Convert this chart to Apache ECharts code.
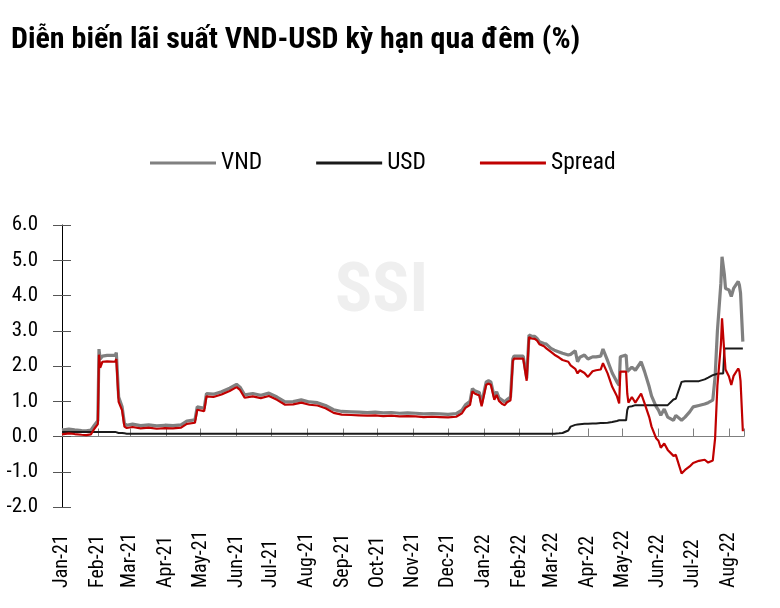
<!DOCTYPE html>
<html>
<head>
<meta charset="utf-8">
<script src="https://cdn.jsdelivr.net/npm/echarts@6/dist/echarts.min.js"></script>
<style>
html,body{margin:0;padding:0;background:#fff;}
#c{width:780px;height:608px;}
</style>
</head>
<body>
<div id="c"></div>
<script>
const dates = [
'2021-01-01','2021-01-07','2021-01-12','2021-01-18','2021-01-22','2021-01-26','2021-01-29','2021-02-01','2021-02-02','2021-02-03',
'2021-02-05','2021-02-09','2021-02-16','2021-02-17','2021-02-19','2021-02-22','2021-02-24','2021-02-26','2021-03-03','2021-03-10',
'2021-03-17','2021-03-24','2021-03-31','2021-04-07','2021-04-14','2021-04-19','2021-04-26','2021-04-28','2021-05-04','2021-05-06',
'2021-05-12','2021-05-19','2021-05-26','2021-06-01','2021-06-04','2021-06-08','2021-06-15','2021-06-22','2021-06-29','2021-07-06',
'2021-07-13','2021-07-20','2021-07-27','2021-08-03','2021-08-10','2021-08-17','2021-08-24','2021-08-31','2021-09-08','2021-09-15',
'2021-09-22','2021-09-29','2021-10-06','2021-10-13','2021-10-20','2021-10-27','2021-11-03','2021-11-10','2021-11-17','2021-11-24',
'2021-12-01','2021-12-08','2021-12-13','2021-12-16','2021-12-20','2021-12-22','2021-12-24','2021-12-28','2021-12-30','2022-01-03',
'2022-01-05','2022-01-07','2022-01-10','2022-01-12','2022-01-14','2022-01-17','2022-01-19','2022-01-21','2022-01-24','2022-01-26',
'2022-01-27','2022-02-04','2022-02-07','2022-02-09','2022-02-11','2022-02-14','2022-02-16','2022-02-18','2022-02-22','2022-02-24',
'2022-02-28','2022-03-03','2022-03-07','2022-03-10','2022-03-15','2022-03-17','2022-03-21','2022-03-23','2022-03-25','2022-03-29',
'2022-04-01','2022-04-05','2022-04-08','2022-04-12','2022-04-14','2022-04-18','2022-04-22','2022-04-26','2022-04-28','2022-04-29',
'2022-05-04','2022-05-05','2022-05-06','2022-05-09','2022-05-12','2022-05-17','2022-05-20','2022-05-24','2022-05-26','2022-05-30',
'2022-06-01','2022-06-03','2022-06-06','2022-06-09','2022-06-14','2022-06-16','2022-06-21','2022-06-24','2022-06-28','2022-07-01',
'2022-07-06','2022-07-11','2022-07-14','2022-07-18','2022-07-20','2022-07-22','2022-07-25','2022-07-26','2022-07-27','2022-07-28',
'2022-07-29','2022-08-01','2022-08-03','2022-08-05','2022-08-09','2022-08-10','2022-08-11','2022-08-13'
];
const vnd = [
0.18,0.21,0.19,0.17,0.16,0.18,0.32,0.45,2.48,2.20,
2.28,2.30,2.30,2.38,1.12,0.84,0.37,0.32,0.35,0.31,
0.33,0.30,0.32,0.31,0.33,0.44,0.47,0.84,0.80,1.22,
1.20,1.27,1.37,1.48,1.40,1.18,1.22,1.17,1.23,1.12,
0.98,0.99,1.04,0.98,0.96,0.88,0.76,0.71,0.70,0.69,
0.68,0.69,0.67,0.68,0.66,0.67,0.66,0.64,0.65,0.64,
0.63,0.65,0.75,0.90,1.00,1.36,1.30,1.25,0.94,1.55,
1.58,1.55,1.12,1.27,1.10,1.03,0.98,1.05,1.12,2.20,
2.28,2.28,1.65,2.88,2.85,2.84,2.78,2.69,2.64,2.62,
2.50,2.45,2.40,2.36,2.31,2.33,2.43,2.12,2.25,2.31,
2.20,2.26,2.26,2.28,2.48,2.15,1.80,1.55,1.45,2.26,
2.31,1.84,1.84,1.97,1.88,2.12,1.84,1.41,1.15,0.85,
0.75,0.60,0.78,0.55,0.46,0.60,0.46,0.55,0.70,0.84,
0.88,0.92,0.96,1.03,1.70,3.00,4.35,5.10,5.10,4.60,
4.20,4.16,3.97,4.20,4.40,4.30,4.07,2.69
];
const usd = [
0.13,0.13,0.13,0.13,0.13,0.13,0.13,0.13,0.13,0.13,
0.13,0.13,0.13,0.13,0.10,0.10,0.09,0.08,0.08,0.08,
0.08,0.08,0.08,0.08,0.08,0.08,0.08,0.08,0.08,0.08,
0.08,0.08,0.08,0.08,0.08,0.08,0.08,0.08,0.08,0.08,
0.08,0.08,0.08,0.08,0.08,0.08,0.08,0.08,0.08,0.08,
0.08,0.08,0.08,0.08,0.08,0.08,0.08,0.08,0.08,0.08,
0.08,0.08,0.08,0.08,0.08,0.08,0.08,0.08,0.08,0.08,
0.08,0.08,0.08,0.08,0.08,0.08,0.08,0.08,0.08,0.08,
0.08,0.08,0.08,0.08,0.08,0.08,0.08,0.08,0.08,0.08,
0.08,0.08,0.09,0.10,0.17,0.28,0.33,0.34,0.35,0.36,
0.36,0.37,0.37,0.38,0.38,0.39,0.41,0.44,0.46,0.46,
0.46,0.75,0.84,0.86,0.89,0.89,0.89,0.89,0.89,0.89,
0.89,0.89,0.89,0.89,1.05,1.07,1.55,1.57,1.57,1.57,
1.57,1.62,1.67,1.74,1.76,1.78,1.79,1.79,1.79,2.50,
2.50,2.50,2.50,2.50,2.50,2.50,2.50,2.50
];
const spread = [
0.06,0.09,0.07,0.05,0.04,0.06,0.22,0.35,2.32,1.95,
2.12,2.13,2.12,2.20,0.98,0.74,0.28,0.24,0.27,0.23,
0.25,0.22,0.24,0.23,0.25,0.36,0.39,0.76,0.72,1.14,
1.12,1.19,1.29,1.40,1.32,1.10,1.14,1.09,1.15,1.04,
0.90,0.91,0.96,0.90,0.88,0.80,0.67,0.62,0.61,0.60,
0.59,0.60,0.58,0.59,0.57,0.58,0.57,0.55,0.56,0.55,
0.54,0.56,0.66,0.81,0.90,1.28,1.22,1.16,0.86,1.47,
1.50,1.47,1.04,1.18,1.01,0.92,0.89,0.97,1.03,2.14,
2.21,2.21,1.58,2.82,2.78,2.77,2.72,2.62,2.56,2.50,
2.40,2.32,2.24,2.17,2.12,2.02,1.92,1.79,1.88,1.80,
1.69,1.85,1.88,1.90,2.08,1.79,1.41,1.15,0.94,1.84,
1.84,1.22,0.96,1.12,0.96,1.22,0.94,0.55,0.28,-0.05,
-0.12,-0.32,-0.20,-0.38,-0.55,-0.52,-1.05,-0.95,-0.85,-0.75,
-0.69,-0.66,-0.74,-0.68,-0.05,1.45,2.60,3.35,3.30,2.36,
1.90,1.70,1.46,1.72,1.93,1.85,1.58,0.15
];
const seriesNames = ['VND','USD','Spread'];
const seriesColors = ['#808080','#1a1a1a','#c00000'];
const monthNames = ['Jan','Feb','Mar','Apr','May','Jun','Jul','Aug','Sep','Oct','Nov','Dec'];
const titleText = 'Diễn biến lãi suất VND-USD kỳ hạn qua đêm (%)';
const xMin = '2021-01-01';
const xMax = '2022-08-14';
const yMin = -2, yMax = 6, yStep = 1;

const FONT = "'Roboto Condensed','Open Sans Condensed',sans-serif";
const chart = echarts.init(document.getElementById('c'), null, {renderer:'canvas'});
const toPairs = arr => dates.map((d,i)=>[d, arr[i]]);
const monthFmt = v => { const d = new Date(v); return monthNames[d.getMonth()] + '-' + String(d.getFullYear()).slice(2); };
const DAY = 86400000;

chart.setOption({
  animation:false,
  backgroundColor:'#fff',
  title:{text:titleText,left:6,top:20,textStyle:{fontFamily:FONT,fontSize:30,fontWeight:'bold',color:'#000'}},
  graphic:[{type:'text',left:335,top:259,z:0,silent:true,
    style:{text:'SSI',fontFamily:FONT,fontSize:69,fontWeight:'bold',fill:'#efefef'}}],
  legend:{left:145,top:146,itemWidth:66,itemHeight:3,itemGap:54,icon:'rect',
    textStyle:{fontFamily:FONT,fontSize:23.5,color:'#000'},
    data:seriesNames.map((n,i)=>({name:n,itemStyle:{color:seriesColors[i]}}))},
  grid:{left:62,right:36,top:225,bottom:101,containLabel:false},
  xAxis:[
    {type:'time',min:xMin,max:xMax,position:'bottom',splitNumber:20,minInterval:28*DAY,maxInterval:31*DAY,
     axisLine:{show:true,onZero:true,lineStyle:{color:'#7f7f7f',width:1}},
     axisTick:{show:true,inside:true,length:8,lineStyle:{color:'#7f7f7f'}},
     axisLabel:{show:false},splitLine:{show:false}},
    {type:'time',min:xMin,max:xMax,position:'bottom',splitNumber:20,minInterval:28*DAY,maxInterval:31*DAY,
     axisLine:{show:false,onZero:false},axisTick:{show:false},splitLine:{show:false},
     axisLabel:{show:true,rotate:90,align:'left',margin:81,formatter:monthFmt,
       fontFamily:FONT,fontSize:20,color:'#000',hideOverlap:false,showMinLabel:true,showMaxLabel:false}}
  ],
  yAxis:[
    {type:'value',min:yMin,max:yMax,interval:yStep,position:'left',
     axisLine:{show:true,onZero:false,lineStyle:{color:'#000',width:1}},
     axisTick:{show:true,length:9,lineStyle:{color:'#555'}},
     axisLabel:{formatter:v=>v.toFixed(1),fontFamily:FONT,fontSize:21,color:'#000',margin:24},
     splitLine:{show:false}},
    {type:'value',min:yMin,max:yMax,interval:yStep,position:'left',offset:0,
     axisLine:{show:false,onZero:false},
     axisTick:{show:true,inside:true,length:9,lineStyle:{color:'#555'}},
     axisLabel:{show:false},splitLine:{show:false}}
  ],
  series:[
    {name:seriesNames[0],type:'line',data:toPairs(vnd),symbol:'none',z:3,
     lineStyle:{color:seriesColors[0],width:3.2},itemStyle:{color:seriesColors[0]}},
    {name:seriesNames[1],type:'line',data:toPairs(usd),symbol:'none',z:4,
     lineStyle:{color:seriesColors[1],width:2},itemStyle:{color:seriesColors[1]}},
    {name:seriesNames[2],type:'line',data:toPairs(spread),symbol:'none',z:5,
     lineStyle:{color:seriesColors[2],width:2.2},itemStyle:{color:seriesColors[2]}}
  ]
});
</script>
</body>
</html>
